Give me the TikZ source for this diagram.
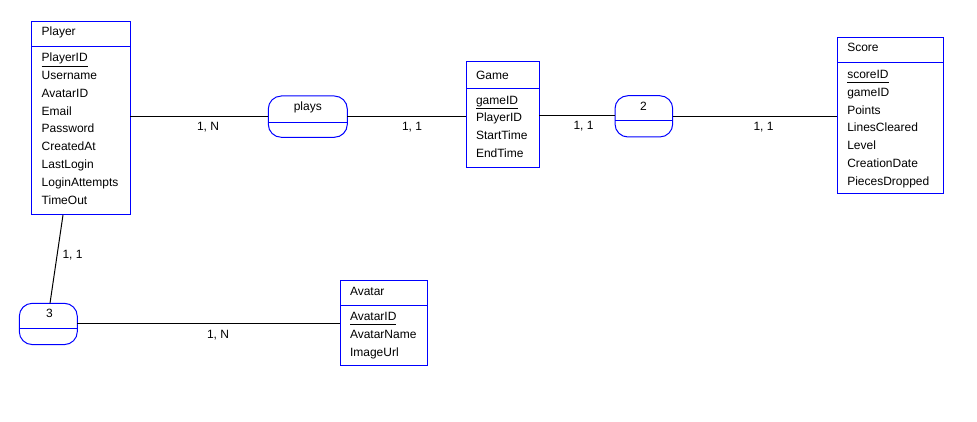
\documentclass[tikz,border=0pt]{standalone}
\usepackage{fontspec}
\setmainfont{Liberation Sans}
\begin{document}
\begin{tikzpicture}[x=1pt,y=-1pt,
  every node/.style={font=\fontsize{12}{14}\selectfont, inner sep=0pt, outer sep=0pt},
  entity/.style={draw=blue, line width=1pt, rectangle},
  rel/.style={draw=blue, line width=1pt, rectangle, rounded corners=13pt},
  attr/.style={anchor=base west},
  lbl/.style={anchor=base west},
  conn/.style={draw=black, line width=1pt},
  sep/.style={draw=blue, line width=1pt},
  keyline/.style={draw=black, line width=1pt}]
\useasboundingbox (0,0) rectangle (977,422);

% ---------- Player ----------
\node[entity, minimum width=98.6pt, minimum height=193.3pt] (player) at (81,118.35) {};
\draw[sep] (31.7,46.7) -- (130.3,46.7);
\node[attr] (playerT) at (41.7,36) {Player};
\node[attr] (p1) at (41.7,61.5) {PlayerID};
\node[attr] (p2) at (41.7,79.4) {Username};
\node[attr] (p3) at (41.7,97.2) {AvatarID};
\node[attr] (p4) at (41.7,115.1) {Email};
\node[attr] (p5) at (41.7,132.9) {Password};
\node[attr] (p6) at (41.7,150.8) {CreatedAt};
\node[attr] (p7) at (41.7,168.6) {LastLogin};
\node[attr] (p8) at (41.7,186.5) {LoginAttempts};
\node[attr] (p9) at (41.7,204.3) {TimeOut};
\draw[keyline] ([yshift=-4.6pt]p1.base west) -- ([yshift=-4.6pt]p1.base east);

% ---------- Game ----------
\node[entity, minimum width=73.3pt, minimum height=106pt] (game) at (502.65,114.7) {};
\draw[sep] (466,89) -- (539.3,89);
\node[attr] (gameT) at (476,80) {Game};
\node[attr] (g1) at (476,104.2) {gameID};
\node[attr] (g2) at (476,122) {PlayerID};
\node[attr] (g3) at (476,139.7) {StartTime};
\node[attr] (g4) at (476,157.4) {EndTime};
\draw[keyline] ([yshift=-4.8pt]g1.base west) -- ([yshift=-4.8pt]g1.base east);

% ---------- Score ----------
\node[entity, minimum width=106pt, minimum height=156.7pt] (score) at (890.3,115.65) {};
\draw[sep] (837.3,62.3) -- (943.3,62.3);
\node[attr] (scoreT) at (847.3,51.7) {Score};
\node[attr] (s1) at (847.3,78.3) {scoreID};
\node[attr] (s2) at (847.3,96.2) {gameID};
\node[attr] (s3) at (847.3,114.1) {Points};
\node[attr] (s4) at (847.3,132) {LinesCleared};
\node[attr] (s5) at (847.3,149.9) {Level};
\node[attr] (s6) at (847.3,167.8) {CreationDate};
\node[attr] (s7) at (847.3,185.8) {PiecesDropped};
\draw[keyline] ([yshift=-4.3pt]s1.base west) -- ([yshift=-4.3pt]s1.base east);

% ---------- Avatar ----------
\node[entity, minimum width=87.7pt, minimum height=85.7pt] (avatar) at (383.85,322.85) {};
\draw[sep] (340,305) -- (427.7,305);
\node[attr] (avatarT) at (350,295) {Avatar};
\node[attr] (a1) at (350,320) {AvatarID};
\node[attr] (a2) at (350,338.2) {AvatarName};
\node[attr] (a3) at (350,356.4) {ImageUrl};
\draw[keyline] ([yshift=-4.8pt]a1.base west) -- ([yshift=-4.8pt]a1.base east);

% ---------- Relationships ----------
\node[rel, minimum width=79pt, minimum height=41.3pt] (plays) at (307.8,116.65) {};
\draw[sep] (plays.west |- 0,122.3) -- (plays.east |- 0,122.3);
\node[anchor=base] (playsT) at (307.8,110.7) {plays};

\node[rel, minimum width=57.7pt, minimum height=41.3pt] (two) at (643.85,116.35) {};
\draw[sep] (two.west |- 0,121) -- (two.east |- 0,121);
\node[anchor=base] (twoT) at (643.5,110.7) {2};

\node[rel, minimum width=58pt, minimum height=41.3pt] (three) at (48.3,323.95) {};
\draw[sep] (three.west |- 0,328.3) -- (three.east |- 0,328.3);
\node[anchor=base] (threeT) at (49.5,317.3) {3};

% ---------- Connectors ----------
\draw[conn] (player.east |- plays.west) -- (plays.west);
\draw[conn] (plays.east) -- (game.west |- plays.east);
\draw[conn] (game.east |- 0,115.5) -- (two.west |- 0,115.5);
\draw[conn] (two.east |- 0,116.8) -- (score.west |- 0,116.8);
\draw[conn] (three.east |- 0,323.3) -- (avatar.west |- 0,323.3);
\draw[conn] ([xshift=-18pt]player.south) -- ([xshift=1.7pt]three.north);

% ---------- Cardinalities ----------
\node[lbl] (c1) at (197,130.5) {1, N};
\node[lbl] (c2) at (402,130.5) {1, 1};
\node[lbl] (c3) at (573.5,130) {1, 1};
\node[lbl] (c4) at (753.5,130.5) {1, 1};
\node[lbl] (c5) at (207,338) {1, N};
\node[lbl] (c6) at (62.5,258.3) {1, 1};
\end{tikzpicture}
\end{document}
